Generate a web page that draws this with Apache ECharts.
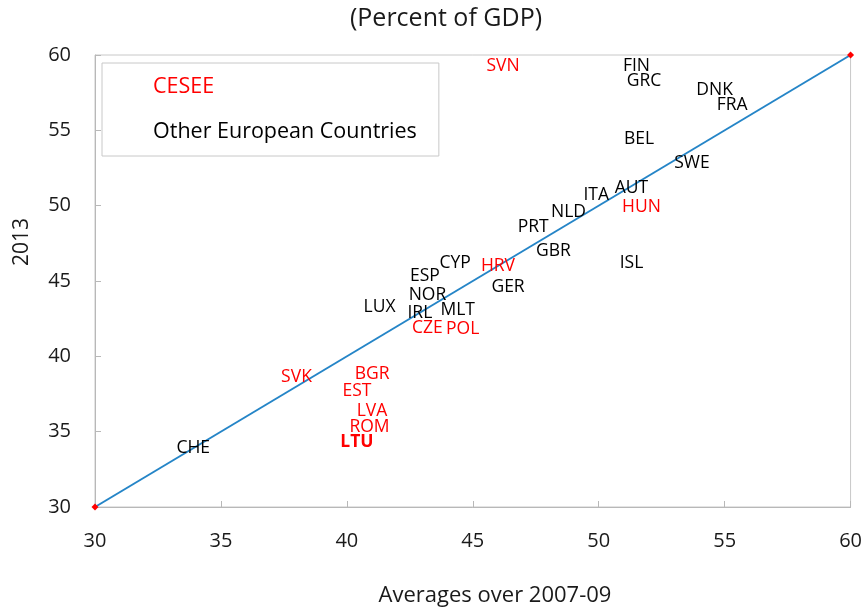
<!DOCTYPE html>
<html>
<head>
<meta charset="utf-8">
<script src="https://cdn.jsdelivr.net/npm/echarts@6/dist/echarts.min.js"></script>
<style>
  html, body { margin: 0; padding: 0; background: #fff; }
  #chart { width: 865px; height: 611px; }
</style>
</head>
<body>
<div id="chart"></div>
<script>
// CESEE countries: [avg 2007-09, 2013]
const cesee = [
  { name: 'SVN', value: [46.2, 59.3] },
  { name: 'HUN', value: [51.7, 49.9] },
  { name: 'HRV', value: [46.0, 46.0] },
  { name: 'CZE', value: [43.2, 41.9] },
  { name: 'POL', value: [44.6, 41.8] },
  { name: 'SVK', value: [38.0, 38.6] },
  { name: 'BGR', value: [41.0, 38.8] },
  { name: 'EST', value: [40.4, 37.7] },
  { name: 'LVA', value: [41.0, 36.4] },
  { name: 'ROM', value: [40.9, 35.3] },
  { name: 'LTU', value: [40.4, 34.3] }
];

// other European countries
const others = [
  { name: 'FIN', value: [51.5, 59.3] },
  { name: 'GRC', value: [51.8, 58.3] },
  { name: 'DNK', value: [54.6, 57.7] },
  { name: 'FRA', value: [55.3, 56.7] },
  { name: 'BEL', value: [51.6, 54.4] },
  { name: 'SWE', value: [53.7, 52.8] },
  { name: 'AUT', value: [51.3, 51.2] },
  { name: 'ITA', value: [49.9, 50.7] },
  { name: 'NLD', value: [48.8, 49.6] },
  { name: 'PRT', value: [47.4, 48.6] },
  { name: 'GBR', value: [48.2, 47.0] },
  { name: 'ISL', value: [51.3, 46.2] },
  { name: 'CYP', value: [44.3, 46.2] },
  { name: 'ESP', value: [43.1, 45.3] },
  { name: 'GER', value: [46.4, 44.6] },
  { name: 'NOR', value: [43.2, 44.1] },
  { name: 'LUX', value: [41.3, 43.3] },
  { name: 'MLT', value: [44.4, 43.1] },
  { name: 'IRL', value: [42.9, 42.9] },
  { name: 'CHE', value: [33.9, 33.9] }
];

// 45 degree reference line
const diagonal = [[30, 30], [60, 60]];
const boldLabels = ['LTU'];

const font = 'Open Sans';
const chart = echarts.init(document.getElementById('chart'));

const toItems = (list) => list.map(d => ({
  name: d.name,
  value: d.value,
  label: boldLabels.includes(d.name) ? { fontWeight: 'bold' } : undefined
}));

const labelSeries = (name, list, color) => ({
  name: name,
  type: 'scatter',
  data: toItems(list),
  symbolSize: 1,
  itemStyle: { color: 'rgba(0,0,0,0)', opacity: 1 },
  label: {
    show: true,
    position: 'inside',
    formatter: '{b}',
    color: color,
    opacity: 1,
    textBorderWidth: 0,
    fontSize: 17.5,
    fontFamily: font
  },
  emphasis: { disabled: true },
  z: 3
});

chart.setOption({
  animation: false,
  title: {
    text: '(Percent of GDP)',
    left: 441,
    top: 1,
    textAlign: 'center',
    textStyle: { fontSize: 25, fontWeight: 'normal', color: '#1a1a1a', fontFamily: font }
  },
  legend: {
    orient: 'vertical',
    left: 102,
    top: 63,
    icon: 'none',
    itemWidth: 0,
    itemHeight: 24,
    itemGap: 21,
    padding: [12, 22, 12, 46],
    borderColor: '#c8c8c8',
    borderWidth: 1,
    selectedMode: false,
    textStyle: { fontSize: 21.5, fontFamily: font, lineHeight: 24 },
    data: [
      { name: 'CESEE', textStyle: { color: '#ff0000' } },
      { name: 'Other European Countries', textStyle: { color: '#000' } }
    ]
  },
  grid: {
    left: 95, right: 14, top: 55, bottom: 104,
    show: true, borderColor: '#c8c8c8', borderWidth: 1
  },
  xAxis: {
    type: 'value',
    min: 30, max: 60, interval: 5,
    axisLine: { lineStyle: { color: '#b8b8b8' } },
    axisTick: { show: true, inside: true, length: 6, lineStyle: { color: '#b8b8b8' } },
    splitLine: { show: false },
    axisLabel: { fontSize: 20, color: '#1a1a1a', margin: 24, fontFamily: font }
  },
  yAxis: {
    type: 'value',
    min: 30, max: 60, interval: 5,
    axisLine: { show: true, lineStyle: { color: '#b8b8b8' } },
    axisTick: { show: true, inside: true, length: 6, lineStyle: { color: '#b8b8b8' } },
    splitLine: { show: false },
    axisLabel: { fontSize: 20, color: '#1a1a1a', margin: 24, fontFamily: font }
  },
  graphic: [
    {
      type: 'text', x: 495, y: 596,
      style: {
        text: 'Averages over 2007-09', fill: '#1a1a1a',
        fontSize: 22, fontFamily: font, align: 'center', verticalAlign: 'middle'
      }
    },
    {
      type: 'text', x: 22, y: 242, rotation: Math.PI / 2,
      style: {
        text: '2013', fill: '#1a1a1a',
        fontSize: 21, fontFamily: font, align: 'center', verticalAlign: 'middle'
      }
    }
  ],
  series: [
    {
      type: 'line',
      data: diagonal,
      symbol: 'diamond',
      symbolSize: 7,
      itemStyle: { color: '#ff0000' },
      lineStyle: { color: '#2585c7', width: 2 },
      silent: true,
      z: 2
    },
    labelSeries('CESEE', cesee, '#ff0000'),
    labelSeries('Other European Countries', others, '#000')
  ]
});
</script>
</body>
</html>
